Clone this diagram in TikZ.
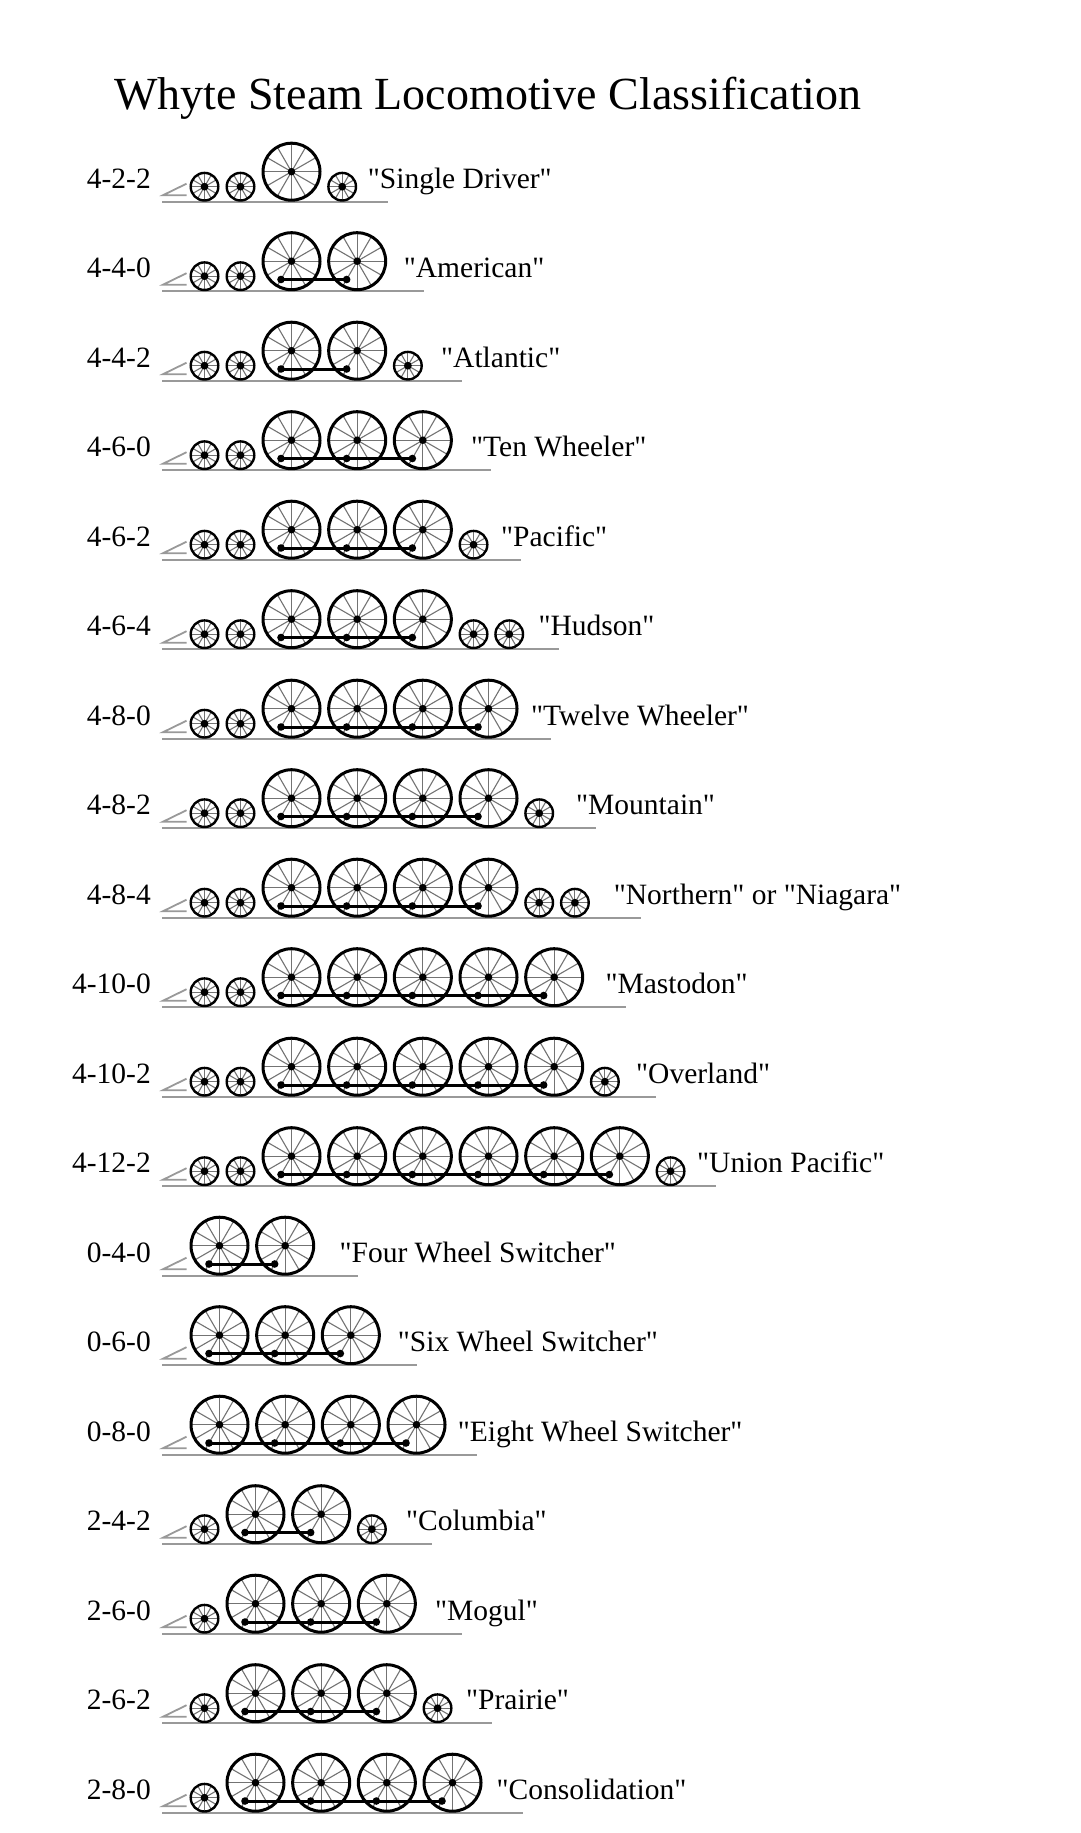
\documentclass[tikz,border=0pt]{standalone}
\usepackage{fontspec}
\setmainfont{Liberation Serif}[Ligatures=TeXOff]
\usepackage{tikz}

\begin{document}
\begin{tikzpicture}[x=1pt,y=-1pt,
  spoke/.style={draw=black!55,line width=1.1pt},
  rail/.style={draw=black!40,line width=1.8pt},
  rod/.style={line width=3pt},
  lbl/.style={inner sep=0pt,font=\fontsize{29.5}{35}\selectfont},
  bigwheel/.pic={
    \foreach \a in {0,30,...,330} \draw[spoke] (0,0) -- (\a:28.5);
    \draw[line width=3pt] (0,0) circle (28.5);
    \fill (0,0) circle (3.8);},
  smallwheel/.pic={
    \foreach \a in {0,30,...,330} \draw[spoke] (0,0) -- (\a:13.8);
    \draw[line width=2.4pt] (0,0) circle (13.8);
    \fill (0,0) circle (3.9);}]
\useasboundingbox (0,0) rectangle (1080,1833);
\node[inner sep=0pt,anchor=base west,font=\fontsize{46}{55}\selectfont] (title) at (114,110) {Whyte Steam Locomotive Classification};
\foreach \k/\nl/\nd/\nt/\gend/\tx/\cls/\nick in {
  1/2/1/1/388/370/4-2-2/{"Single Driver"},
  2/2/2/0/424.3/406/4-4-0/{"American"},
  3/2/2/1/461.7/443.3/4-4-2/{"Atlantic"},
  4/2/3/0/491/473.3/4-6-0/{"Ten Wheeler"},
  5/2/3/1/521/503.3/4-6-2/{"Pacific"},
  6/2/3/2/559/540.7/4-6-4/{"Hudson"},
  7/2/4/0/551/533.3/4-8-0/{"Twelve Wheeler"},
  8/2/4/1/596/578.3/4-8-2/{"Mountain"},
  9/2/4/2/641/616/4-8-4/{"Northern" or "Niagara"},
  10/2/5/0/626/607.7/4-10-0/{"Mastodon"},
  11/2/5/1/656/638.3/4-10-2/{"Overland"},
  12/2/6/1/715.7/699.3/4-12-2/{"Union Pacific"},
  13/0/2/0/357.7/341.7/0-4-0/{"Four Wheel Switcher"},
  14/0/3/0/417.3/400/0-6-0/{"Six Wheel Switcher"},
  15/0/4/0/476.7/460/0-8-0/{"Eight Wheel Switcher"},
  16/1/2/1/431.7/408.3/2-4-2/{"Columbia"},
  17/1/3/0/461.7/437.3/2-6-0/{"Mogul"},
  18/1/3/1/491.7/468.3/2-6-2/{"Prairie"},
  19/1/4/0/523.4/498.8/2-8-0/{"Consolidation"}}{
  \pgfmathsetmacro\g{201.7+89.5*(\k-1)}
  \pgfmathsetmacro\xb{219.5+36*\nl}
  \pgfmathsetmacro\xl{\xb+65.67*(\nd-1)}
  \draw[rail] (162,\g) -- (\gend,\g);
  \draw[rail] (186.5,\g-18) -- (163,\g-6.5) -- (186.5,\g-6.5);
  \ifnum\nl>0 \foreach \i in {1,...,\nl} \pic at ({204.5+36*(\i-1)},\g-15) {smallwheel}; \fi
  \foreach \j in {1,...,\nd} {
    \pic at ({\xb+65.67*(\j-1)},\g-30) {bigwheel};
    \coordinate (p\k-\j) at ({\xb+65.67*(\j-1)-10.5},\g-11.7);}
  \ifnum\nt>0 \foreach \i in {1,...,\nt} \pic at ({\xl+50.7+35.7*(\i-1)},\g-15) {smallwheel}; \fi
  \ifnum\nd>1
    \draw[rod] (p\k-1) -- (p\k-\nd);
    \foreach \j in {1,...,\nd} \fill (p\k-\j) circle (3.8);
  \fi
  \node[lbl,anchor=base east] (cls\k) at (151,\g-13.5) {\cls};
  \node[lbl,anchor=base west] (nick\k) at (\tx-2.3,\g-13.5) {\nick};
}
\end{tikzpicture}
\end{document}
